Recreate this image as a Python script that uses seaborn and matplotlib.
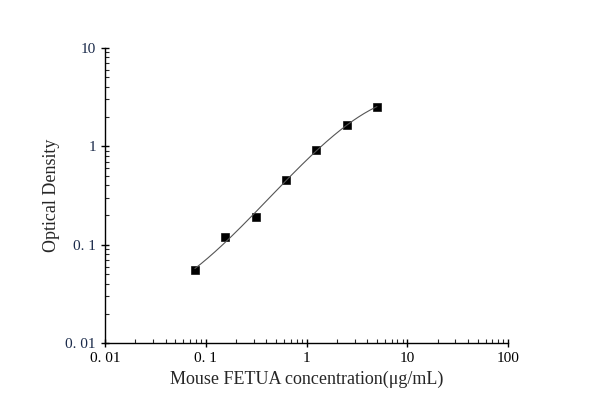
import numpy as np
import matplotlib
matplotlib.use("Agg")
import matplotlib.pyplot as plt
import seaborn as sns
from matplotlib.ticker import LogLocator, FixedLocator

conc = [0.078, 0.156, 0.312, 0.625, 1.25, 2.5, 5.0]
od = [0.055, 0.12, 0.19, 0.45, 0.92, 1.65, 2.5]
x_ticks = [0.01, 0.1, 1, 10, 100]
x_labels = ["0. 01", "0. 1", "1", "10", "100"]
y_ticks = [0.01, 0.1, 1, 10]
y_labels = ["0. 01", "0. 1", "1", "10"]

sns.set_style("ticks")
plt.rcParams['font.family'] = ['Liberation Serif', 'DejaVu Serif']

fig = plt.figure(figsize=(5.9, 4.12), dpi=100)
ax = fig.add_axes([0.178, 0.167, 0.683, 0.717])

# smooth fitted curve (cubic in log-log space, derived from data)
lx, ly = np.log10(conc), np.log10(od)
coef = np.polyfit(lx, ly, 3)
xs = np.linspace(lx[0], lx[-1], 200)
sns.lineplot(x=10**xs, y=10**np.polyval(coef, xs), ax=ax, color="#555555", lw=0.8)
sns.scatterplot(x=conc, y=od, ax=ax, marker="s", color="black", s=30, edgecolor="black")

ax.set_xscale("log"); ax.set_yscale("log")
ax.set_xlim(0.01, 100); ax.set_ylim(0.01, 10)
ax.xaxis.set_major_locator(FixedLocator(x_ticks)); ax.set_xticklabels(x_labels)
ax.yaxis.set_major_locator(FixedLocator(y_ticks)); ax.set_yticklabels(y_labels)
ax.xaxis.set_minor_locator(LogLocator(base=10, subs=np.arange(2, 10)))
ax.yaxis.set_minor_locator(LogLocator(base=10, subs=np.arange(2, 10)))
ax.tick_params(which="major", direction="inout", length=6, width=1, labelsize=11, colors="black")
ax.tick_params(which="minor", direction="in", length=3, width=0.8)
ax.tick_params(axis="y", labelcolor="#1a2a4a")
for s in ("top", "right"):
    ax.spines[s].set_visible(False)
for s in ("left", "bottom"):
    ax.spines[s].set_linewidth(1)
    ax.spines[s].set_color("black")
ax.set_xlabel("Mouse FETUA concentration(μg/mL)", fontsize=13)
ax.set_ylabel("Optical Density", fontsize=13)
fig.savefig("out.png", dpi=100)
